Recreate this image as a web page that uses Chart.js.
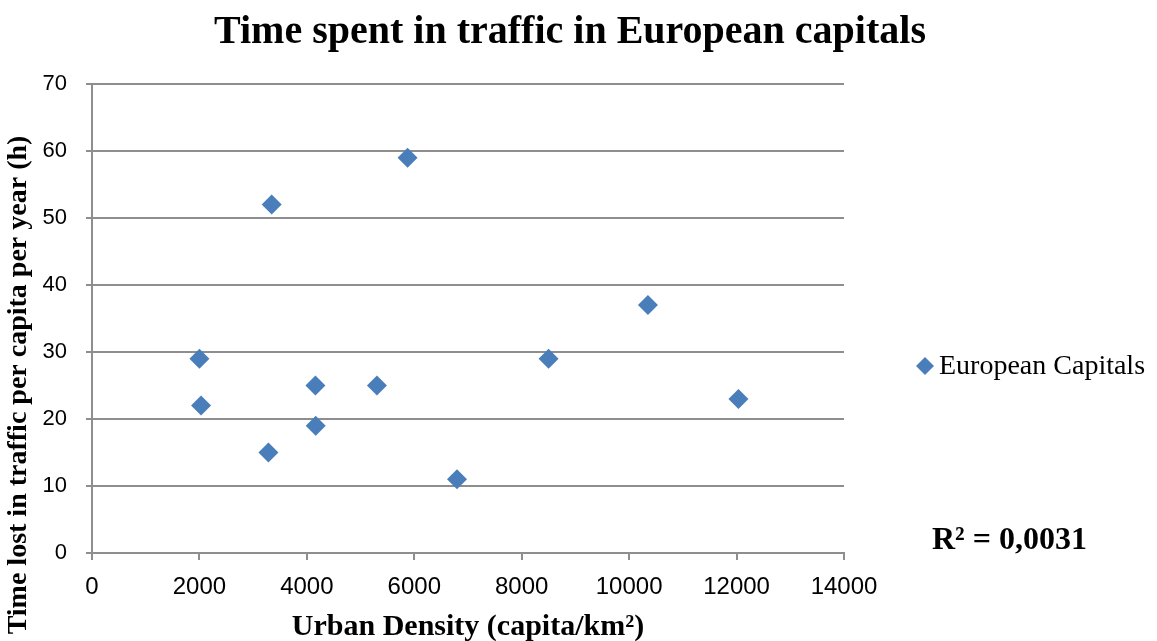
<!DOCTYPE html>
<html>
<head>
<meta charset="utf-8">
<title>Time spent in traffic in European capitals</title>
<script src="https://cdn.jsdelivr.net/npm/chart.js@4/dist/chart.umd.min.js"></script>
<style>
  html, body { margin: 0; padding: 0; background: #fff; }
  #wrap { width: 1157px; height: 641px; }
</style>
</head>
<body>
<div id="wrap"><canvas id="trafficChart"></canvas></div>
<script>
// urban density (capita/km2) and hours lost in traffic per capita per year
const density = [2000, 2030, 3345, 3285, 4160, 4165, 5305, 5875, 6795, 8500, 10350, 12035];
const hoursLost = [29, 22, 52, 15, 25, 19, 25, 59, 11, 29, 37, 23];
const xTicks = [0, 2000, 4000, 6000, 8000, 10000, 12000, 14000];
const yTicks = [0, 10, 20, 30, 40, 50, 60, 70];
const seriesName = 'European Capitals';
const rSquared = '0,0031';

const blue = '#4A7EBB';
const gridGray = '#8E8E8E';
const serif = "'Liberation Serif', 'DejaVu Serif', serif";
const sans = "'Liberation Sans', Arial, sans-serif";

const points = density.map((x, i) => ({ x: x, y: hoursLost[i] }));

// title, y axis title, legend entry and R² label are laid out on the full canvas,
// independent of the plot box on the left
const sideText = {
    id: 'sideText',
    afterDraw(chart) {
        const ctx = chart.ctx;
        ctx.save();
        ctx.fillStyle = '#000';
        ctx.textBaseline = 'middle';

        ctx.font = 'bold 40px ' + serif;
        ctx.textAlign = 'center';
        ctx.fillText('Time spent in traffic in European capitals', 570, 33);

        ctx.save();
        ctx.translate(19, 385);
        ctx.rotate(-Math.PI / 2);
        ctx.font = 'bold 28px ' + serif;
        ctx.fillText('Time lost in traffic per capita per year (h)', 0, 0);
        ctx.restore();

        const lx = 925, ly = 366, r = 9;
        ctx.fillStyle = blue;
        ctx.beginPath();
        ctx.moveTo(lx, ly - r);
        ctx.lineTo(lx + r, ly);
        ctx.lineTo(lx, ly + r);
        ctx.lineTo(lx - r, ly);
        ctx.closePath();
        ctx.fill();

        ctx.fillStyle = '#000';
        ctx.textAlign = 'left';
        ctx.font = '28px ' + serif;
        ctx.fillText(seriesName, 939, ly + 1);

        ctx.font = 'bold 32px ' + serif;
        ctx.fillText('R² = ' + rSquared, 932, 541);
        ctx.restore();
    }
};

new Chart(document.getElementById('trafficChart'), {
    type: 'scatter',
    data: {
        datasets: [{
            label: seriesName,
            data: points,
            pointStyle: 'rectRot',
            pointRadius: 10,
            pointHoverRadius: 10,
            backgroundColor: blue,
            borderColor: blue,
            borderWidth: 0
        }]
    },
    options: {
        responsive: true,
        maintainAspectRatio: false,
        animation: false,
        layout: { padding: { left: 0, right: 313, top: 84, bottom: 0 } },
        plugins: {
            legend: { display: false },
            tooltip: { enabled: false }
        },
        scales: {
            x: {
                type: 'linear',
                min: 0,
                max: 14000,
                afterBuildTicks: (axis) => { axis.ticks = xTicks.map(v => ({ value: v })); },
                afterFit: (axis) => { axis.height = 88; },
                ticks: {
                    color: '#000',
                    font: { family: sans, size: 24 },
                    padding: 13,
                    maxRotation: 0,
                    callback: (v) => String(v)
                },
                grid: {
                    drawOnChartArea: false,
                    drawTicks: true,
                    tickLength: 7,
                    color: gridGray,
                    lineWidth: 2
                },
                border: { color: gridGray, width: 2 },
                title: {
                    display: true,
                    text: 'Urban Density (capita/km²)',
                    color: '#000',
                    font: { family: serif, size: 30, weight: 'bold', lineHeight: 0.9 },
                    padding: { top: 0, bottom: 0 }
                }
            },
            y: {
                min: 0,
                max: 70,
                afterBuildTicks: (axis) => { axis.ticks = yTicks.map(v => ({ value: v })); },
                afterFit: (axis) => { axis.width = 92; },
                ticks: {
                    color: '#000',
                    font: { family: sans, size: 22 },
                    padding: 19,
                    callback: (v) => String(v)
                },
                grid: {
                    color: gridGray,
                    lineWidth: 2,
                    tickLength: 6
                },
                border: { color: gridGray, width: 2 }
            }
        }
    },
    plugins: [sideText]
});
</script>
</body>
</html>
